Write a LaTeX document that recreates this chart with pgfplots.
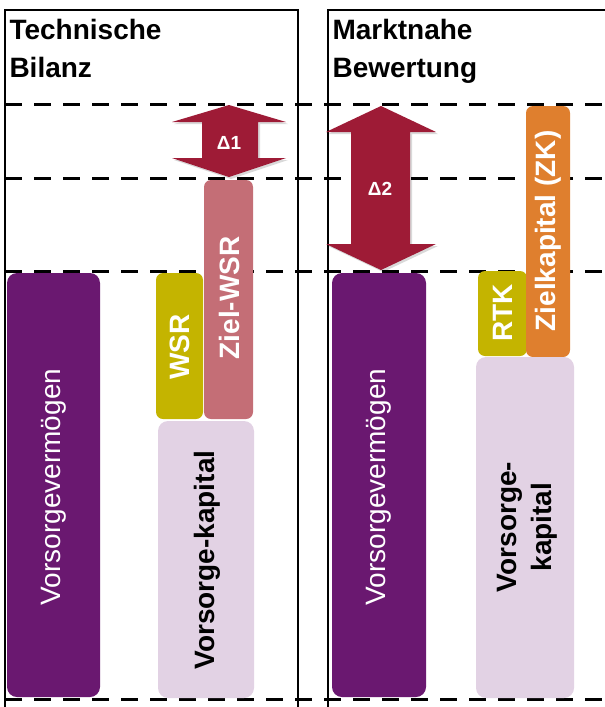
\documentclass[border=0pt]{standalone}
\usepackage{pgfplots}
\pgfplotsset{compat=1.18}
\usepackage{fontspec}
\setmainfont{Liberation Sans}
\definecolor{vv}{RGB}{106,24,112}
\definecolor{olive}{RGB}{196,180,0}
\definecolor{zwsr}{RGB}{196,110,118}
\definecolor{lav}{RGB}{226,210,228}
\definecolor{crim}{RGB}{158,27,54}
\definecolor{zk}{RGB}{223,127,46}
\newcommand{\bigf}{\fontsize{28}{34}\selectfont}
\newcommand{\bigb}{\fontsize{28}{34}\selectfont\bfseries}
\begin{document}
\begin{tikzpicture}
\begin{axis}[name=ax,width=605pt,height=707pt,scale only axis,
  xmin=0,xmax=605,ymin=0,ymax=707,y dir=reverse,hide axis,clip=true]
% panel frames
\addplot[black,line width=1.3pt] coordinates {(5,707) (5,10) (298,10) (298,707)};
\addplot[black,line width=1.3pt] coordinates {(328,707) (328,10) (605,10)};
% dashed level lines
\addplot[black,line width=3pt,dash pattern=on 17pt off 12pt] coordinates {(5,104) (605,104)};
\addplot[black,line width=3pt,dash pattern=on 17pt off 12pt] coordinates {(5,178) (605,178)};
\addplot[black,line width=3pt,dash pattern=on 17pt off 12pt] coordinates {(5,271) (605,271)};
\addplot[black,line width=3pt,dash pattern=on 17pt off 12pt] coordinates {(5,699) (605,699)};
% left panel bars
\addplot[fill=vv,draw=none,rounded corners=10pt] coordinates {(7,273) (100,273) (100,697) (7,697)} -- cycle;
\addplot[fill=olive,draw=none,rounded corners=7pt] coordinates {(156,273) (203,273) (203,419) (156,419)} -- cycle;
\addplot[fill=zwsr,draw=none,rounded corners=7pt] coordinates {(204,180) (253,180) (253,419) (204,419)} -- cycle;
\addplot[fill=lav,draw=none,rounded corners=10pt] coordinates {(158,421) (254,421) (254,698) (158,698)} -- cycle;
% right panel bars
\addplot[fill=vv,draw=none,rounded corners=10pt] coordinates {(332,273) (426,273) (426,697) (332,697)} -- cycle;
\addplot[fill=olive,draw=none,rounded corners=7pt] coordinates {(478,271) (527,271) (527,356) (478,356)} -- cycle;
\addplot[fill=zk,draw=none,rounded corners=7pt] coordinates {(526,106) (570,106) (570,357) (526,357)} -- cycle;
\addplot[fill=lav,draw=none,rounded corners=10pt] coordinates {(476,357) (574,357) (574,698) (476,698)} -- cycle;
% arrow shadows
\addplot[fill=black,fill opacity=0.15,draw=none] coordinates {(231,107) (288,124) (260,124) (260,160) (288,160) (231,179) (174,160) (204,160) (204,124) (174,124)} -- cycle;
\addplot[fill=black,fill opacity=0.15,draw=none] coordinates {(383,108) (438,134) (412,134) (412,246) (438,246) (383,272) (328,246) (353,246) (353,134) (328,134)} -- cycle;
% arrows
\addplot[fill=crim,draw=none] coordinates {(229,105) (286,122) (258,122) (258,158) (286,158) (229,177) (172,158) (202,158) (202,122) (172,122)} -- cycle;
\addplot[fill=crim,draw=none] coordinates {(381,106) (436,132) (410,132) (410,244) (436,244) (381,270) (326,244) (351,244) (351,132) (326,132)} -- cycle;
% texts
\node[anchor=base west,font=\bigb] at (axis cs:6,39) {Technische};
\node[anchor=base west,font=\bigb] at (axis cs:6,77) {Bilanz};
\node[anchor=base west,font=\bigb] at (axis cs:329,39) {Marktnahe};
\node[anchor=base west,font=\bigb] at (axis cs:329,77) {Bewertung};
\node[rotate=90,text=white,font=\bigf] at (axis cs:53.5,487) {Vorsorgevermögen};
\node[rotate=90,text=white,font=\bigf] at (axis cs:379,487) {Vorsorgevermögen};
\node[rotate=90,text=white,font=\bigb] at (axis cs:180,347) {WSR};
\node[rotate=90,text=white,font=\bigb] at (axis cs:229.5,298) {Ziel-WSR};
\node[rotate=90,text=black,font=\bigb] at (axis cs:207,560) {Vorsorge-kapital};
\node[text=white,font=\fontsize{19}{22}\selectfont\bfseries] at (axis cs:229,143) {Δ1};
\node[text=white,font=\fontsize{19}{22}\selectfont\bfseries] at (axis cs:380,189) {Δ2};
\node[rotate=90,text=white,font=\bigb] at (axis cs:503,313) {RTK};
\node[rotate=90,text=white,font=\bigb] at (axis cs:548,231) {Zielkapital (ZK)};
\node[rotate=90,text=black,font=\bigb,align=center] at (axis cs:527,527) {Vorsorge-\\[1pt]kapital};
\end{axis}
\pgfresetboundingbox
\path (ax.south west) rectangle (ax.north east);
\end{tikzpicture}
\end{document}
